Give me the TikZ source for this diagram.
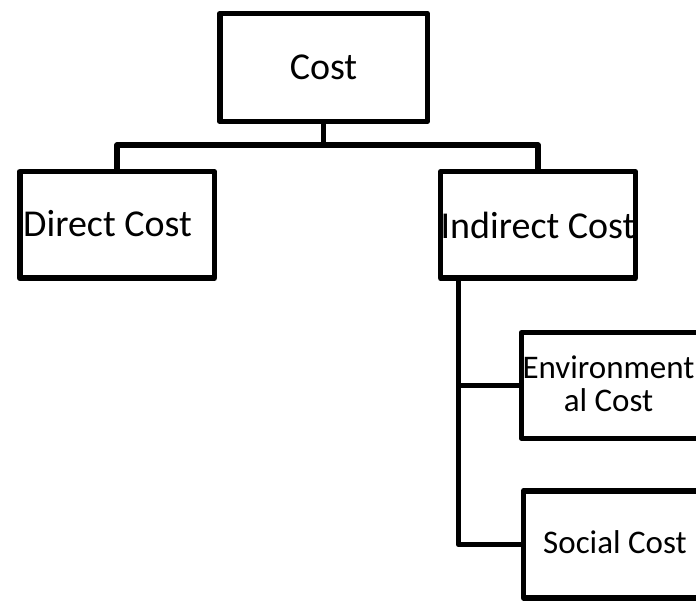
\documentclass[tikz,border=0pt]{standalone}
\usepackage{fontspec}
\setmainfont{Carlito}
\usetikzlibrary{calc}
\tikzset{
  box/.style={draw, line width=5.5pt, rectangle, inner sep=0pt, outer sep=0pt, line join=round},
  conn/.style={draw, line width=5.5pt, line join=round},
  bigtext/.style={font=\fontsize{38}{46}\selectfont, inner sep=0pt},
  smalltext/.style={font=\fontsize{33}{33}\selectfont, inner sep=0pt, align=center},
}
\begin{document}
\begin{tikzpicture}[x=1pt,y=-1pt]
\useasboundingbox (0,0) rectangle (696,601);
\clip (0,0) rectangle (696,601);
\node[box, minimum width=207.5pt, minimum height=108pt, bigtext] (cost) at (323.5,67.5) {Cost};
\node[box, minimum width=194.5pt, minimum height=106.5pt] (direct) at (117,225) {};
\node[bigtext] (directtext) at (107.5,224) {Direct Cost};
\node[box, minimum width=194.5pt, minimum height=106.5pt, bigtext] (indirect) at (538,225) {Indirect Cost};
\node[box, minimum width=188pt, minimum height=105.5pt] (env) at (615.5,385.5) {};
\node[smalltext] (envtext) at (608.5,384) {Environment\\al Cost};
\node[box, minimum width=187pt, minimum height=107pt] (social) at (617,544.4) {};
\node[smalltext] (socialtext) at (615,542) {Social Cost};
\coordinate (bar) at ($(cost.south)+(0,23.5)$);
\draw[conn] (cost.south) -- (bar);
\draw[conn] (direct.north) |- (bar) -| (indirect.north);
\coordinate (stem) at ($(indirect.south west)+(17.75,0)$);
\draw[conn] (stem) |- (social.west);
\draw[conn] (stem) |- (env.west);
\end{tikzpicture}
\end{document}
